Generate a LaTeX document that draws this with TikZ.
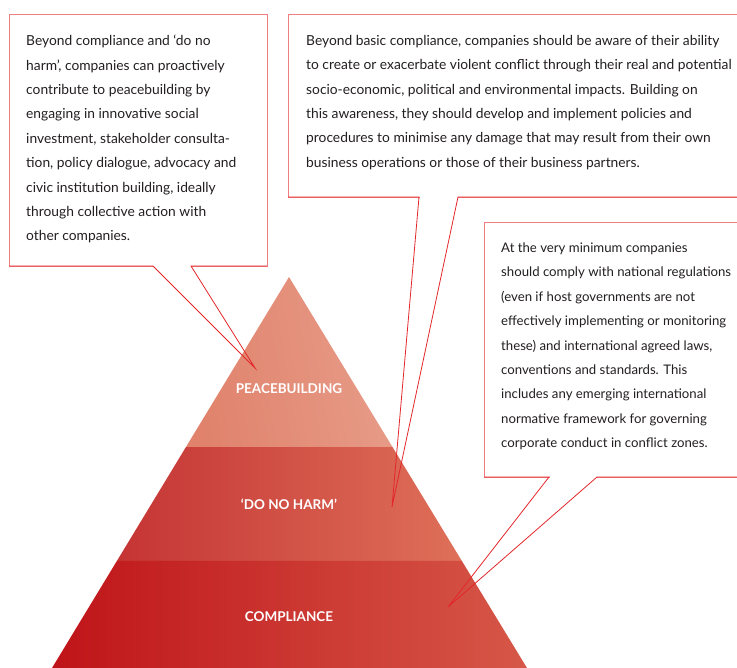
\documentclass[tikz,border=0pt]{standalone}
\usepackage{fontspec}
\setmainfont{Lato}
\usetikzlibrary{calc}
\definecolor{inkgray}{HTML}{231F20}
\definecolor{boxedge}{HTML}{EF7F80}
\definecolor{pointred}{HTML}{E3262A}
\definecolor{peaceL}{HTML}{E0826C}
\definecolor{peaceR}{HTML}{E79C88}
\definecolor{harmL}{HTML}{C53434}
\definecolor{harmM}{HTML}{D14A40}
\definecolor{harmR}{HTML}{DE7059}
\definecolor{compL}{HTML}{BF1419}
\definecolor{compM}{HTML}{C8391E}
\definecolor{compR}{HTML}{D65748}
\tikzset{
  bodytext/.style={anchor=north west, inner sep=0pt, align=left, text=inkgray,
    font=\fontsize{13.8}{24.4}\selectfont},
  narrowtext/.style={bodytext, font=\fontsize{13.2}{24.4}\selectfont},
  levellabel/.style={text=white, inner sep=0pt, font=\fontsize{13.5}{16}\selectfont\bfseries},
  boxfill/.style={fill=white, draw=none},
  boxline/.style={draw=boxedge, line width=0.9pt},
  pointline/.style={draw=pointred, line width=0.8pt, line join=miter},
}
\begin{document}
\begin{tikzpicture}[x=1pt,y=-1pt]
\useasboundingbox (0,0) rectangle (737,668);
\clip (0,0) rectangle (737,668);

% ---- pyramid ----
\coordinate (apex) at (289,277);
\coordinate (bl) at (52,668);
\coordinate (br) at (527,668);
\coordinate (l1) at ($(apex)!0.4348!(bl)$);
\coordinate (r1) at ($(apex)!0.4348!(br)$);
\coordinate (l2) at ($(apex)!0.7263!(bl)$);
\coordinate (r2) at ($(apex)!0.7263!(br)$);
\shade[left color=peaceL, right color=peaceR, shading angle=100]
  (apex) -- (l1) -- (r1) -- cycle;
\shade[left color=harmL, middle color=harmM, right color=harmR]
  (l1) -- (l2) -- (r2) -- (r1) -- cycle;
\shade[left color=compL, middle color=compM, right color=compR]
  (l2) -- (bl) -- (br) -- (r2) -- cycle;

\node[levellabel] (peace) at (289,389) {PEACEBUILDING};
\node[levellabel] (harm) at (289,504) {‘DO NO HARM’};
\node[levellabel] (comp) at (289,617) {COMPLIANCE};

% ---- callout boxes ----
\coordinate (b1nw) at (9,14);   \coordinate (b1se) at (267,266);
\coordinate (b2nw) at (288,14); \coordinate (b2se) at (760,197);
\coordinate (b3nw) at (484,222); \coordinate (b3se) at (760,477);
\fill[boxfill] (b1nw) rectangle (b1se);
\fill[boxfill] (b2nw) rectangle (b2se);
\fill[boxfill] (b3nw) rectangle (b3se);
\draw[boxline] (b1nw) rectangle (b1se);
\draw[boxline] (b2nw) rectangle (b2se);
\draw[boxline] (b3nw) rectangle (b3se);

% pointer ends
\coordinate (p1a) at (153,266); \coordinate (p1b) at (191,266); \coordinate (tip1) at (255,368);
\coordinate (p2a) at (419,197); \coordinate (p2b) at (458,197); \coordinate (tip2) at (392,507);
\coordinate (p3a) at (549,477); \coordinate (p3b) at (597,477); \coordinate (tip3) at (448,607);

% bottom edges with the pointer notch
\fill[white] ($(p1a)+(0.5,-0.5)$) rectangle ($(p1b)+(-0.5,0.8)$);
\fill[white] ($(p2a)+(0.5,-0.5)$) rectangle ($(p2b)+(-0.5,0.8)$);
\fill[white] ($(p3a)+(0.5,-0.5)$) rectangle ($(p3b)+(-0.5,0.8)$);
\draw[pointline] (b1nw |- b1se) -- (p1a) -- (tip1) -- (p1b) -- (b1se);
\draw[pointline] (b2nw |- b2se) -- (p2a) -- (tip2) -- (p2b) -- (b2se);
\draw[pointline] (b3nw |- b3se) -- (p3a) -- (tip3) -- (p3b) -- (b3se);

% ---- texts ----
\node[bodytext] (t1) at (26,35) {Beyond compliance and ‘do no\\
harm’, companies can proactively\\
contribute to peacebuilding by\\
engaging in innovative social\\
investment, stakeholder consulta-\\
tion, policy dialogue, advocacy and\\
civic institution building, ideally\\
through collective action with\\
other companies.};

\node[bodytext] (t2) at (306,35) {Beyond basic compliance, companies should be aware of their ability\\
to create or exacerbate violent conflict through their real and potential\\
socio-economic, political and environmental impacts. Building on\\
this awareness, they should develop and implement policies and\\
procedures to minimise any damage that may result from their own\\
business operations or those of their business partners.};

\node[narrowtext] (t3) at (501,242.5) {At the very minimum companies\\
should comply with national regulations\\
(even if host governments are not\\
effectively implementing or monitoring\\
these) and international agreed laws,\\
conventions and standards. This\\
includes any emerging international\\
normative framework for governing\\
corporate conduct in conflict zones.};
\end{tikzpicture}
\end{document}
